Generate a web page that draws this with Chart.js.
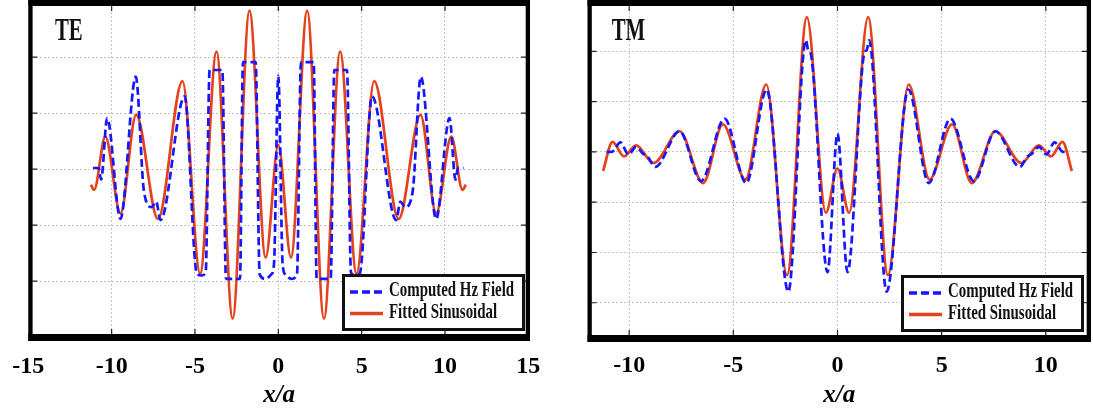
<!DOCTYPE html>
<html><head><meta charset="utf-8">
<script src="https://cdn.jsdelivr.net/npm/chart.js@4.4.1/dist/chart.umd.min.js"></script>
<style>
html,body{margin:0;padding:0;background:#fff;}
#wrap{position:relative;width:1093px;height:414px;overflow:hidden;background:#fff;}
canvas{position:absolute;top:0;}
</style></head><body>
<div id="wrap">
<canvas id="te" width="560" height="414" style="left:0;width:560px;height:414px"></canvas>
<canvas id="tm" width="533" height="414" style="left:560px;width:533px;height:414px"></canvas>
</div>
<script>
// ---- tick labels ----
const TE_XTICKS = [-15, -10, -5, 0, 5, 10, 15];
const TE_YTICKS = [-2, -1, 0, 1, 2];
const TM_XTICKS = [-10, -5, 0, 5, 10];
const TM_YTICKS = [-3, -2, -1, 0, 1, 2];
const SERIES_NAMES = ['Computed Hz Field', 'Fitted Sinusoidal'];
const PANEL_NAMES = ['TE', 'TM'];
const AXIS_TITLE = 'x/a';

// ---- TE panel ----
const TE_HZ_X = [-11.12,-10.78,-10.63,-10.27,-9.47,-8.55,-8.06,-7.6,-7.33,-7.07,-5.62,-4.9,-4.62,-4.36,-4.12,-3.36,-3.14,-2.3,-2.12,-1.36,-1.12,-0.78,-0.42,-0.26,0,
                 0.26,0.42,0.78,1.12,1.36,2.12,2.3,3.14,3.36,4.12,4.36,4.62,4.9,5.62,7.07,7.33,7.6,8.06,8.55,9.47,10.27,10.63,10.78,11.12];
const TE_HZ_Y = [0.02,0.02,-0.19,0.91,-0.89,1.65,-0.4,-0.68,-0.58,-0.91,1.3,-1.85,-1.9,-1.85,1.77,1.77,-1.96,-1.96,1.91,1.91,-1.88,-1.96,-1.88,-1.7,1.67,
                 -1.7,-1.88,-1.96,-1.88,1.91,1.91,-1.96,-1.96,1.77,1.77,-1.85,-1.9,-1.85,1.3,-0.91,-0.58,-0.68,-0.4,1.65,-0.89,0.91,-0.19,0.02,0.02];
const TE_FIT_X = [-11.25,-11.05,-10.38,-9.47,-8.53,-7.22,-5.75,-4.69,-3.71,-2.74,-1.73,-0.76,0,0.76,1.73,2.74,3.71,4.69,5.75,7.22,8.53,9.47,10.38,11.05,11.25];
const TE_FIT_Y = [-0.28,-0.37,0.58,-0.79,0.97,-0.89,1.57,-1.87,2.10,-2.67,2.83,-1.58,0.43,-1.58,2.83,-2.67,2.10,-1.87,1.57,-0.89,0.97,-0.79,0.58,-0.37,-0.28];

// ---- TM panel ----
const TM_HZ_X = [-11.08,-10.83,-10.42,-10.03,-9.67,-9.35,-9.1,-8.75,-7.58,-6.55,-5.42,-4.38,-3.4,-2.36,-1.52,-1.4,-1.3,-0.48,0,
                 0.48,1.3,1.4,1.52,2.36,3.4,4.38,5.42,6.55,7.58,8.75,9.1,9.35,9.67,10.03,10.42,10.83,11.08];
const TM_HZ_Y = [0,0,0.19,-0.05,0.1,-0.03,-0.1,-0.3,0.41,-0.58,0.66,-0.62,1.24,-2.78,2.22,2.02,1.98,-2.39,0.36,
                 -2.39,1.98,2.02,2.22,-2.78,1.24,-0.62,0.66,-0.58,0.41,-0.3,-0.1,-0.03,0.1,-0.05,0.19,0,0];
const TM_FIT_X = [-11.25,-10.8,-10.25,-9.67,-8.83,-7.58,-6.45,-5.5,-4.42,-3.42,-2.42,-1.47,-0.56,0,0.56,1.47,2.42,3.42,4.42,5.5,6.45,7.58,8.83,9.67,10.25,10.8,11.25];
const TM_FIT_Y = [-0.38,0.2,-0.09,0.13,-0.22,0.41,-0.62,0.55,-0.55,1.34,-2.45,2.68,-1.21,-0.33,-1.21,2.68,-2.45,1.34,-0.55,0.55,-0.62,0.41,-0.22,0.13,-0.09,0.2,-0.38];

const BLUE = '#1616ff';
const RED = '#e2431c';
const SERIF = '"Liberation Serif", "Times New Roman", serif';

function pts(xs, ys) { return xs.map((x, i) => ({ x: x, y: ys[i] })); }

const framePlugin = {
  id: 'frame',
  afterDatasetsDraw(chart, args, o) {
    const ctx = chart.ctx, a = chart.chartArea;
    const xs = chart.scales.x, ys = chart.scales.y;
    ctx.save();
    // small inward tick marks
    ctx.strokeStyle = '#222'; ctx.lineWidth = 1.2; ctx.setLineDash([]);
    ys.ticks.forEach(t => {
      const py = ys.getPixelForValue(t.value);
      if (py < a.top + 8 || py > a.bottom - 9) return;
      ctx.beginPath();
      ctx.moveTo(a.left + 4, py); ctx.lineTo(a.left + 9, py);
      ctx.moveTo(a.right - 4, py); ctx.lineTo(a.right - 9, py);
      ctx.stroke();
    });
    xs.ticks.forEach(t => {
      const px = xs.getPixelForValue(t.value);
      if (px < a.left + 6 || px > a.right - 6) return;
      ctx.beginPath();
      ctx.moveTo(px, a.bottom - 7); ctx.lineTo(px, a.bottom - 12);
      ctx.moveTo(px, a.top + 6); ctx.lineTo(px, a.top + 11);
      ctx.stroke();
    });
    // legend box
    const bw = 183, bh = 57;
    const bx = a.right - o.legRight - bw, by = a.bottom - o.legBottom - bh;
    ctx.fillStyle = '#fff'; ctx.fillRect(bx, by, bw, bh);
    ctx.lineWidth = 3; ctx.strokeStyle = '#111';
    ctx.strokeRect(bx + 1.5, by + 1.5, bw - 3, bh - 3);
    const rows = [by + 18, by + 39.5];
    const bases = [by + 21.5, by + 43.5];
    chart.data.datasets.forEach((ds, i) => {
      ctx.save();
      ctx.strokeStyle = ds.borderColor; ctx.lineWidth = 3.4;
      ctx.setLineDash(ds.borderDash || []);
      ctx.beginPath(); ctx.moveTo(bx + 8, rows[i]); ctx.lineTo(bx + 41, rows[i]); ctx.stroke();
      ctx.restore();
      ctx.save();
      ctx.fillStyle = '#111';
      ctx.font = 'bold 21px ' + SERIF;
      ctx.textBaseline = 'alphabetic'; ctx.textAlign = 'left';
      ctx.translate(bx + 47, bases[i]); ctx.scale(0.71, 1);
      ctx.fillText(ds.label, 0, 0);
      ctx.restore();
    });
    // panel label
    ctx.save();
    ctx.fillStyle = '#111';
    ctx.font = 'bold 32px ' + SERIF;
    ctx.textBaseline = 'alphabetic'; ctx.textAlign = 'left';
    ctx.translate(a.left + o.labelDx, 39.5); ctx.scale(0.65, 1);
    ctx.fillText(o.panel, 0, 0);
    ctx.restore();
    // thick frame
    ctx.fillStyle = '#000';
    const w = a.right - a.left;
    ctx.fillRect(a.left, a.top, w, o.topW);
    ctx.fillRect(a.left, a.bottom - o.botW, w, o.botW);
    ctx.fillRect(a.left, a.top, 4.3, a.bottom - a.top);
    ctx.fillRect(a.right - 4.3, a.top, 4.3, a.bottom - a.top);
    ctx.restore();
  }
};

function makeChart(id, g) {
  return new Chart(document.getElementById(id), {
    type: 'line',
    data: {
      datasets: [
        { label: SERIES_NAMES[0], data: pts(g.hzX, g.hzY), borderColor: BLUE, borderWidth: 2.7,
          borderDash: [8, 4], pointRadius: 0, fill: false, cubicInterpolationMode: 'monotone' },
        { label: SERIES_NAMES[1], data: pts(g.fitX, g.fitY), borderColor: RED, borderWidth: 2.7,
          pointRadius: 0, fill: false, cubicInterpolationMode: 'monotone' }
      ]
    },
    options: {
      responsive: false, animation: false, devicePixelRatio: 1,
      layout: { padding: { left: 0, right: g.rightPad, top: 0, bottom: 0 } },
      plugins: {
        legend: { display: false }, tooltip: { enabled: false },
        frame: { legRight: g.legRight, legBottom: g.legBottom, panel: g.panel, labelDx: g.labelDx, topW: 6, botW: 7 }
      },
      scales: {
        x: {
          type: 'linear', min: g.xmin, max: g.xmax,
          afterBuildTicks: s => { s.ticks = g.xticks.map(v => ({ value: v })); },
          afterFit: s => { s.height = 414 - g.bottom; },
          grid: { color: '#c4c4c4', lineWidth: 1, drawTicks: false },
          border: { display: false, dash: [2, 2] },
          ticks: { color: '#000', padding: g.tickPad, font: { family: SERIF, size: 24, weight: 'bold' }, maxRotation: 0 },
          title: { display: true, text: AXIS_TITLE, color: '#000', padding: { top: 0, bottom: 3 },
                   font: { family: SERIF, size: 25, weight: 'bold', style: 'italic' } }
        },
        y: {
          type: 'linear', min: g.ymin, max: g.ymax,
          afterBuildTicks: s => { s.ticks = g.yticks.map(v => ({ value: v })); },
          afterFit: s => { s.width = g.left; },
          grid: { color: '#c4c4c4', lineWidth: 1, drawTicks: false },
          border: { display: false, dash: [2, 2] },
          ticks: { display: false }
        }
      }
    },
    plugins: [framePlugin]
  });
}

makeChart('te', {
  hzX: TE_HZ_X, hzY: TE_HZ_Y, fitX: TE_FIT_X, fitY: TE_FIT_Y,
  xticks: TE_XTICKS, yticks: TE_YTICKS, panel: PANEL_NAMES[0],
  left: 28.3, rightPad: 30, bottom: 341, tickPad: 11,
  xmin: -15, xmax: 15.1, ymin: -3.07, ymax: 3.02,
  legRight: 5, legBottom: 10, labelDx: 26.7
});
makeChart('tm', {
  hzX: TM_HZ_X, hzY: TM_HZ_Y, fitX: TM_FIT_X, fitY: TM_FIT_Y,
  xticks: TM_XTICKS, yticks: TM_YTICKS, panel: PANEL_NAMES[1],
  left: 27.5, rightPad: 2, bottom: 342, tickPad: 9,
  xmin: -12, xmax: 12.17, ymin: -3.78, ymax: 3.02,
  legRight: 7, legBottom: 10, labelDx: 24.2
});
</script>
</body></html>
